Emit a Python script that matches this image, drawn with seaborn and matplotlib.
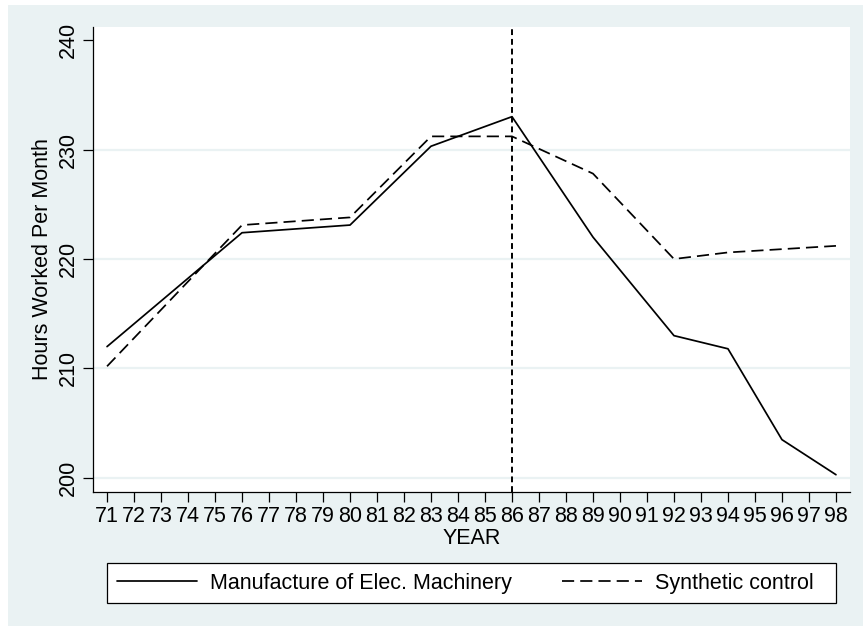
import numpy as np
import pandas as pd
import seaborn as sns
import matplotlib.pyplot as plt
from matplotlib.patches import Rectangle
from matplotlib.lines import Line2D

# data
years = [71, 76, 80, 83, 86, 89, 92, 94, 96, 98]
treated = [212.0, 222.4, 223.1, 230.3, 233.0, 222.0, 213.0, 211.8, 203.5, 200.3]
synthetic = [210.2, 223.1, 223.8, 231.2, 231.2, 227.8, 220.0, 220.6, 220.9, 221.2]
series_names = ['Manufacture of Elec. Machinery', 'Synthetic control']
year_ticks = list(range(71, 99))
y_ticks = [200, 210, 220, 230, 240]
treat_year = 86

df = pd.DataFrame({
    'year': years * 2,
    'hours': treated + synthetic,
    'series': [series_names[0]] * len(years) + [series_names[1]] * len(years),
})

sns.set_style('white')
plt.rcParams['font.family'] = ['Liberation Sans', 'DejaVu Sans']
plt.rcParams.update({'text.color': 'black', 'axes.labelcolor': 'black',
                     'xtick.color': 'black', 'ytick.color': 'black'})

bg = '#EAF2F3'
fs = 15.5
fig = plt.figure(figsize=(8.63, 6.26), dpi=100, facecolor='white')
fig.patches.append(Rectangle((8 / 863, 0), 1, 1 - 5 / 626, transform=fig.transFigure,
                             facecolor=bg, edgecolor='none', zorder=-10))
# legend box
fig.patches.append(Rectangle((107 / 863, 1 - 603 / 626), 729 / 863, 40 / 626,
                             transform=fig.transFigure, facecolor='white',
                             edgecolor='black', linewidth=0.9, zorder=-5))
ax = fig.add_axes([93 / 863, 1 - 492 / 626, 757 / 863, 465 / 626])
ax.set_facecolor('white')

for yv in y_ticks[:-1]:
    ax.axhline(yv, color=bg, lw=1.6, zorder=0)

sns.lineplot(data=df, x='year', y='hours', style='series', color='black',
             dashes={series_names[0]: '', series_names[1]: (7, 3.5)},
             linewidth=1.25, ax=ax, legend=False)
ax.axvline(treat_year, color='black', lw=1.4, linestyle=(0, (3, 2)))

ax.set_xlim(70.48, 98.52)
ax.set_ylim(198.72, 241.19)
ax.set_xticks(year_ticks)
ax.set_xticklabels([str(y) for y in year_ticks], fontsize=fs)
ax.set_yticks(y_ticks)
ax.set_yticklabels([str(y) for y in y_ticks], fontsize=fs, rotation=90, va='center')
ax.tick_params(axis='both', direction='out', length=7, width=0.9, color='black',
               pad=3, bottom=True, left=True)
for s in ['top', 'right']:
    ax.spines[s].set_visible(False)
for s in ['left', 'bottom']:
    ax.spines[s].set_color('black')
    ax.spines[s].set_linewidth(0.9)
ax.set_xlabel('YEAR', fontsize=fs, labelpad=1)
ax.set_ylabel('Hours Worked Per Month', fontsize=fs, labelpad=4)

handles = [Line2D([], [], color='black', lw=1.25),
           Line2D([], [], color='black', lw=1.25, dashes=(7, 3.5))]
leg = fig.legend(handles, series_names, ncol=2, loc='center left',
                 bbox_to_anchor=(117 / 863, 1 - 583 / 626),
                 fontsize=fs, frameon=False,
                 handlelength=3.7, handletextpad=0.62, borderpad=0,
                 borderaxespad=0, columnspacing=2.35)

fig.savefig('out.png', dpi=100, facecolor=fig.get_facecolor())
